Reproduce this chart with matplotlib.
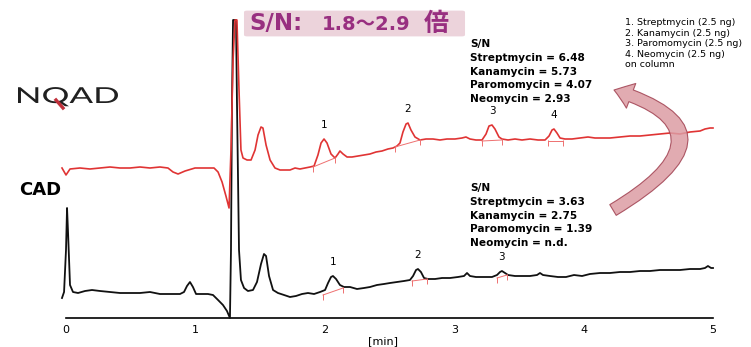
import numpy as np
import matplotlib
matplotlib.use("Agg")
import matplotlib.pyplot as plt
from matplotlib.patches import FancyArrowPatch, FancyBboxPatch, PathPatch
from matplotlib.textpath import TextPath
from matplotlib.font_manager import FontProperties
from matplotlib.transforms import Affine2D

# NQAD trace: retention time [min] and detector response (arbitrary units)
nqad_t = [-0.031, 0.000, 0.031, 0.108, 0.185, 0.263, 0.340, 0.417, 0.495, 0.572,
          0.649, 0.726, 0.788, 0.827, 0.866, 0.920, 0.997, 1.074, 1.144, 1.175,
          1.206, 1.236, 1.260, 1.275, 1.291, 1.306, 1.321, 1.337, 1.352, 1.368,
          1.399, 1.430, 1.461, 1.484, 1.507, 1.522, 1.546, 1.577, 1.615, 1.654,
          1.692, 1.731, 1.770, 1.808, 1.847, 1.886, 1.917, 1.947, 1.971, 1.994,
          2.017, 2.048, 2.079, 2.102, 2.117, 2.141, 2.172, 2.210, 2.257, 2.303,
          2.349, 2.396, 2.442, 2.488, 2.527, 2.558, 2.581, 2.604, 2.628, 2.643,
          2.666, 2.697, 2.736, 2.782, 2.836, 2.890, 2.944, 3.006, 3.060, 3.091,
          3.122, 3.168, 3.215, 3.246, 3.269, 3.292, 3.315, 3.346, 3.369, 3.416,
          3.470, 3.524, 3.586, 3.648, 3.702, 3.733, 3.756, 3.771, 3.794, 3.818,
          3.856, 3.910, 3.972, 4.034, 4.088, 4.127, 4.204, 4.281, 4.359, 4.436,
          4.513, 4.590, 4.668, 4.745, 4.822, 4.900, 4.938, 4.977, 5.000]
nqad_r = [3.0, 2.3, 2.9, 3.0, 2.9, 3.0, 3.1, 3.0, 3.0, 3.1,
          3.0, 3.1, 3.0, 2.6, 2.4, 2.7, 3.0, 3.0, 3.0, 2.6,
          1.6, 0.2, -1.0, 4.8, 13.8, 17.8, 17.8, 10.8, 4.8, 4.0,
          3.8, 3.8, 4.8, 6.3, 7.1, 7.0, 5.3, 3.8, 3.0, 2.8,
          2.8, 2.8, 3.0, 2.9, 3.0, 3.1, 3.2, 4.3, 5.5, 5.9,
          5.5, 4.4, 4.0, 4.4, 4.7, 4.4, 4.1, 4.1, 4.2, 4.3,
          4.4, 4.6, 4.7, 4.9, 5.0, 5.2, 5.5, 6.6, 7.4, 7.5,
          6.8, 6.1, 5.8, 5.9, 5.9, 5.8, 5.9, 5.9, 6.0, 6.1,
          5.9, 5.8, 5.8, 6.4, 7.2, 7.3, 6.9, 6.1, 5.9, 5.8,
          5.9, 5.8, 5.9, 5.8, 5.8, 6.2, 6.8, 6.9, 6.5, 6.0,
          5.9, 5.9, 6.0, 6.1, 6.0, 6.0, 6.0, 6.1, 6.2, 6.2,
          6.3, 6.4, 6.5, 6.4, 6.6, 6.7, 6.9, 7.0, 7.0]

# CAD trace
cad_t = [-0.031, -0.015, 0.000, 0.008, 0.015, 0.031, 0.054, 0.093, 0.147, 0.201,
         0.263, 0.340, 0.417, 0.495, 0.572, 0.649, 0.726, 0.804, 0.881, 0.912,
         0.935, 0.958, 0.981, 1.005, 1.051, 1.097, 1.136, 1.175, 1.213, 1.244,
         1.267, 1.275, 1.283, 1.291, 1.314, 1.321, 1.337, 1.352, 1.376, 1.406,
         1.445, 1.476, 1.507, 1.530, 1.546, 1.569, 1.600, 1.638, 1.685, 1.731,
         1.777, 1.824, 1.870, 1.917, 1.963, 2.002, 2.025, 2.048, 2.063, 2.087,
         2.117, 2.148, 2.195, 2.249, 2.303, 2.349, 2.403, 2.457, 2.504, 2.558,
         2.612, 2.658, 2.682, 2.705, 2.720, 2.743, 2.767, 2.798, 2.852, 2.906,
         2.968, 3.029, 3.076, 3.099, 3.122, 3.168, 3.230, 3.292, 3.331, 3.354,
         3.369, 3.393, 3.416, 3.470, 3.524, 3.586, 3.640, 3.663, 3.686, 3.740,
         3.802, 3.864, 3.926, 3.988, 4.049, 4.127, 4.204, 4.281, 4.359, 4.436,
         4.513, 4.590, 4.668, 4.745, 4.822, 4.900, 4.938, 4.961, 4.985, 5.000]
cad_r = [2.0, 2.6, 6.8, 11.0, 8.8, 3.3, 2.6, 2.5, 2.7, 2.8,
         2.7, 2.6, 2.5, 2.5, 2.5, 2.6, 2.4, 2.4, 2.4, 2.6,
         3.2, 3.6, 3.1, 2.4, 2.4, 2.4, 2.3, 1.8, 1.3, 0.7,
         0.0, 6.8, 21.8, 29.8, 29.8, 21.8, 6.8, 3.8, 3.0, 2.7,
         2.8, 3.6, 5.4, 6.4, 6.2, 4.2, 2.8, 2.5, 2.3, 2.1,
         2.2, 2.4, 2.5, 2.4, 2.6, 2.8, 3.5, 4.1, 4.2, 3.9,
         3.3, 3.1, 3.1, 2.9, 3.0, 3.1, 3.3, 3.4, 3.5, 3.6,
         3.7, 3.8, 4.2, 4.8, 4.9, 4.6, 4.0, 3.9, 3.9, 4.0,
         4.0, 4.1, 4.2, 4.5, 4.2, 4.1, 4.1, 4.1, 4.3, 4.6,
         4.7, 4.5, 4.3, 4.2, 4.2, 4.2, 4.3, 4.5, 4.3, 4.2,
         4.1, 4.1, 4.3, 4.2, 4.4, 4.5, 4.5, 4.6, 4.6, 4.7,
         4.7, 4.8, 4.8, 4.8, 4.9, 4.9, 5.0, 5.2, 5.0, 5.0]

# integration baselines: (t_start, r_start, t_end, r_end)
nqad_base = [(1.909, 3.1, 2.079, 4.0), (2.542, 5.1, 2.736, 5.8),
             (3.215, 5.7, 3.369, 5.8), (3.725, 5.7, 3.841, 5.7)]
cad_base = [(1.986, 2.3, 2.141, 3.0), (2.674, 3.7, 2.790, 3.9),
            (3.331, 4.0, 3.408, 4.3)]

# peak numbers and approximate apex times
nqad_peaks = ["1", "2", "3", "4"]
nqad_peak_t = [1.994, 2.643, 3.292, 3.771]
cad_peaks = ["1", "2", "3"]
cad_peak_t = [2.063, 2.720, 3.369]

nqad_offset = 12.0

compounds = ["Streptmycin", "Kanamycin", "Paromomycin", "Neomycin"]
sn_nqad = ["6.48", "5.73", "4.07", "2.93"]
sn_cad = ["3.63", "2.75", "1.39", "n.d."]
amount_ng = 2.5
xticks = [0, 1, 2, 3, 4, 5]

W, H = 751, 347
fig = plt.figure(figsize=(W / 100, H / 100), dpi=100)
fig.patch.set_facecolor("white")


def fx(px):
    return px / W


def fy(py):
    return 1 - py / H


ax = fig.add_axes([fx(66), fy(318), fx(713) - fx(66), fy(0) - fy(318)])
ax.set_xlim(0, 5)
ax.set_ylim(0, 31.8)
for s in ["top", "right", "left"]:
    ax.spines[s].set_visible(False)
ax.spines["bottom"].set_linewidth(1.2)
ax.set_yticks([])
ax.set_xticks(xticks)
ax.tick_params(axis="x", length=0, pad=5, labelsize=8)
for lab in ax.get_xticklabels():
    lab.set_family(["Liberation Sans Narrow", "DejaVu Sans"])

red = "#e03434"
ax.plot(cad_t, cad_r, color="#111111", lw=1.3, clip_on=False, zorder=3)
ax.plot(nqad_t, np.array(nqad_r) + nqad_offset, color=red, lw=1.2,
        clip_on=False, zorder=4)

basec = "#ee7070"
for t0, r0, t1, r1 in nqad_base:
    ax.plot([t0, t1], [r0 + nqad_offset, r1 + nqad_offset], color=basec, lw=0.7, zorder=5)
    ax.plot([t0, t1], [r0 + nqad_offset - 0.2, r1 + nqad_offset - 0.2], ls="none",
            marker="|", ms=5, mew=0.7, color=basec, zorder=5)
for t0, r0, t1, r1 in cad_base:
    ax.plot([t0, t1], [r0, r1], color=basec, lw=0.7, zorder=5)
    ax.plot([t0, t1], [r0 - 0.2, r1 - 0.2], ls="none",
            marker="|", ms=5, mew=0.7, color=basec, zorder=5)


def apex(ts, rs, t):
    ts = np.asarray(ts)
    rs = np.asarray(rs)
    near = np.abs(ts - t) < 0.03
    i = np.argmax(np.where(near, rs, -np.inf))
    return ts[i], rs[i]


for name, t in zip(nqad_peaks, nqad_peak_t):
    pt, pr = apex(nqad_t, nqad_r, t)
    ax.annotate(name, (pt, pr + nqad_offset), xytext=(0, 9), textcoords="offset pixels",
                ha="center", va="bottom", fontsize=7.5)
for name, t in zip(cad_peaks, cad_peak_t):
    pt, pr = apex(cad_t, cad_r, t)
    ax.annotate(name, (pt, pr), xytext=(0, 9), textcoords="offset pixels",
                ha="center", va="bottom", fontsize=7.5)

fig.text(fx(383), fy(341), "[min]", ha="center", va="center", fontsize=8,
         family=["Liberation Sans Narrow", "DejaVu Sans"])

# NQAD logo: wide, thin lettering (stretched text path) with a red tail on the Q
logo = TextPath((0, 0), "NQAD", size=22, prop=FontProperties(family="Lato", weight="normal"))
ext = logo.get_extents()
sx = 100 / ext.width
logo_tr = Affine2D().translate(-ext.x0, 0).scale(sx, 1).translate(18, H - 103)
fig.add_artist(PathPatch(logo_tr.transform_path(logo), fc="#202020", ec="none",
                         transform=None))
fig.add_artist(plt.Line2D([fx(56), fx(63)], [fy(100), fy(108)], color="#c0303a", lw=2.4))
fig.text(fx(19), fy(190), "CAD", ha="left", va="center", fontsize=13,
         fontweight="bold", color="black")

# headline on a soft pink band
fig.add_artist(FancyBboxPatch((fx(247), fy(35)), fx(462) - fx(247), fy(12) - fy(35),
                              boxstyle="round,pad=0.004", transform=fig.transFigure,
                              fc="#ecd3db", ec="none", zorder=1))
head = dict(va="center", ha="left", fontweight="bold", color="#982f80",
            family=["DejaVu Sans", "Noto Sans CJK JP"], zorder=2)
fig.text(fx(249), fy(24), "S/N:", fontsize=16.5, **head)
fig.text(fx(322), fy(24), "1.8～2.9", fontsize=14, **head)
fig.text(fx(424), fy(24), "倍", fontsize=18, **head)

sn_font = dict(fontsize=7.6, fontweight="bold", family=["DejaVu Sans"], linespacing=1.47,
               ha="left", va="top")
fig.text(fx(470), fy(39), "S/N\n" + "\n".join(f"{c} = {v}" for c, v in zip(compounds, sn_nqad)),
         **sn_font)
fig.text(fx(470), fy(183), "S/N\n" + "\n".join(f"{c} = {v}" for c, v in zip(compounds, sn_cad)),
         **sn_font)

sample = "\n".join(f"{i + 1}. {c} ({amount_ng} ng)" for i, c in enumerate(compounds))
fig.text(fx(625), fy(18), sample + "\non column", ha="left", va="top", fontsize=6.8,
         family=["DejaVu Sans"], linespacing=1.22)

arrow = FancyArrowPatch((fx(613), fy(210)), (fx(614), fy(90)), transform=fig.transFigure,
                        connectionstyle="angle3,angleA=31,angleB=-17",
                        arrowstyle="simple,head_width=19,head_length=13,tail_width=9",
                        shrinkA=0, shrinkB=0,
                        fc="#dc9ca4", ec="#a04050", lw=0.8, alpha=0.85, zorder=6)
fig.add_artist(arrow)

fig.savefig("out.png", dpi=100)
